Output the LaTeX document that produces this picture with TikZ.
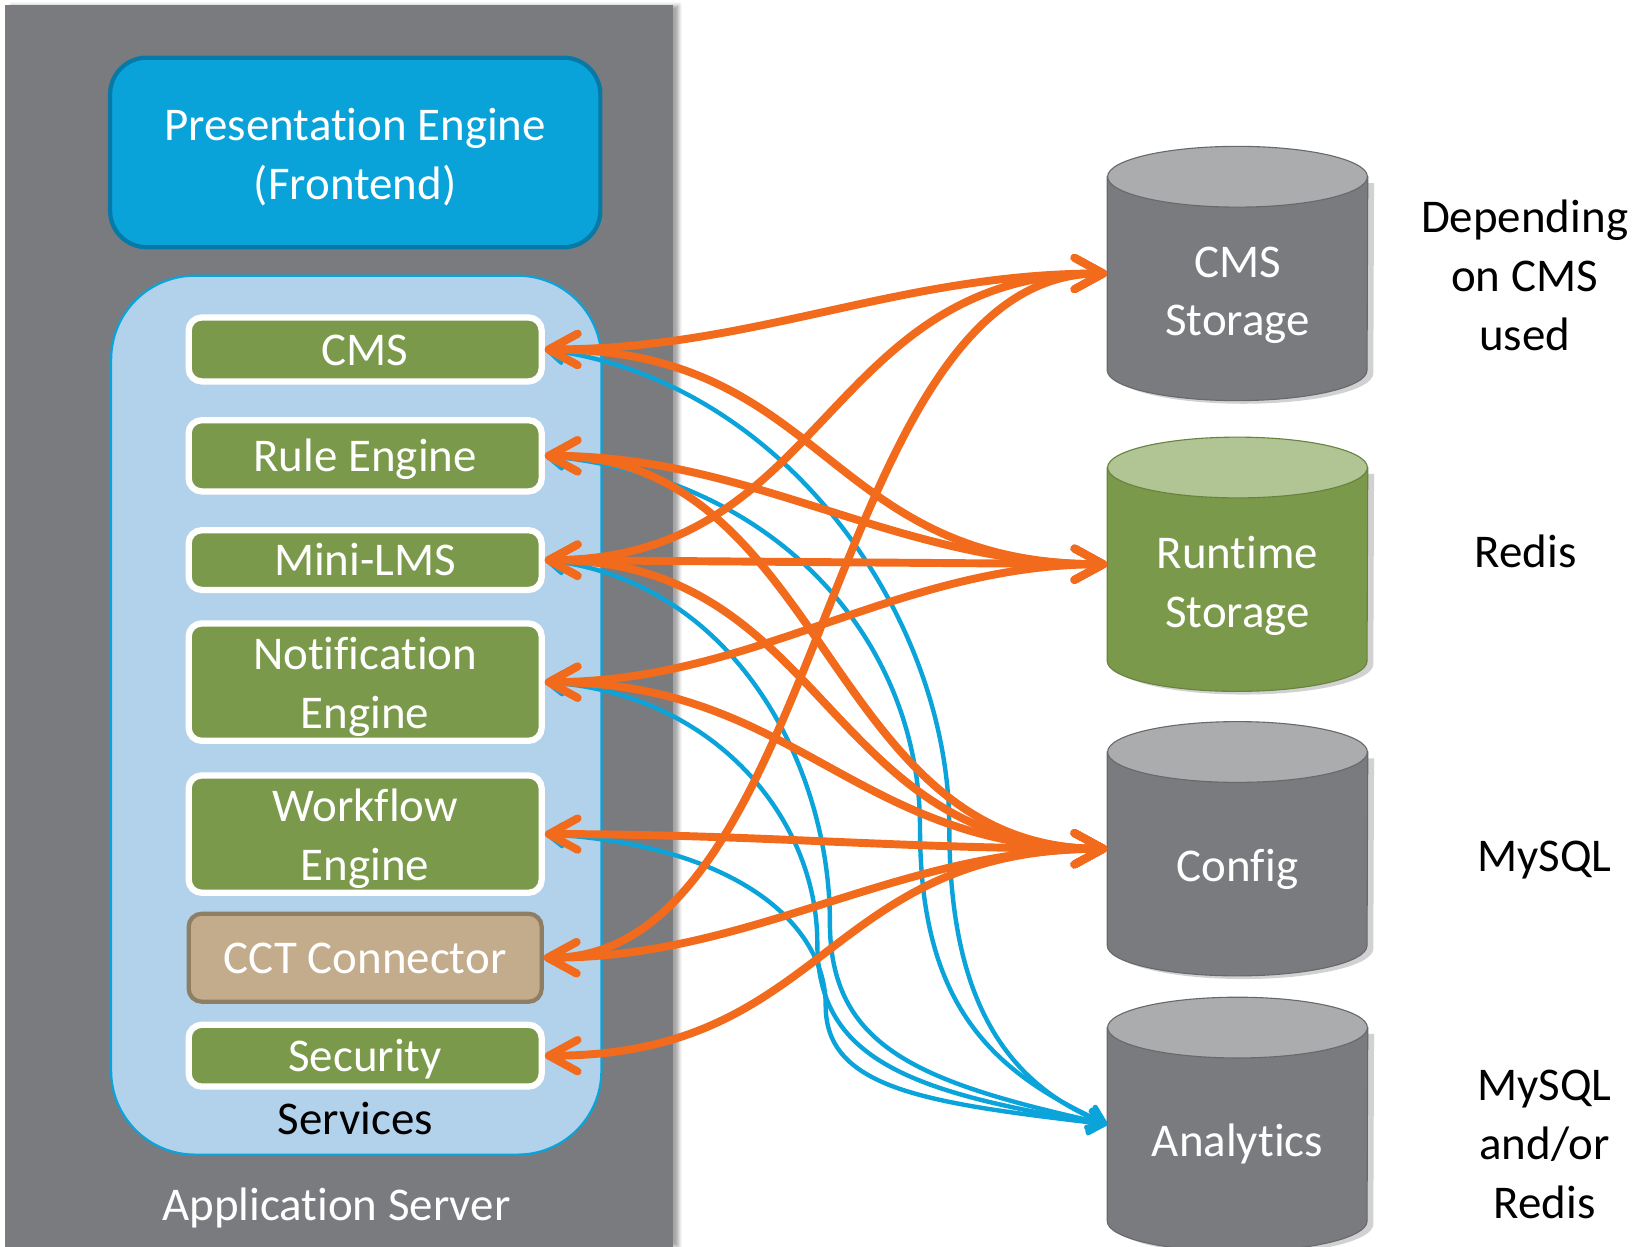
\documentclass[tikz,border=0pt]{standalone}
\usepackage{fontspec}
\setmainfont{Carlito}[Ligatures=NoCommon]
\usetikzlibrary{arrows.meta,shadows.blur}

\definecolor{srvgray}{HTML}{7A7B7F}
\definecolor{frontblue}{HTML}{09A2D9}
\definecolor{frontedge}{HTML}{0779A6}
\definecolor{svcblue}{HTML}{B2D2EB}
\definecolor{svcgreen}{HTML}{7A994A}
\definecolor{ccttan}{HTML}{C3AC8B}
\definecolor{cctedge}{HTML}{8E7E64}
\definecolor{dbgray}{HTML}{7A7B7F}
\definecolor{dbtop}{HTML}{ABACAE}
\definecolor{dbgreentop}{HTML}{B0C494}
\definecolor{linkorange}{HTML}{F26A1B}
\definecolor{linkblue}{HTML}{0AA3DA}

% same top and bottom room for every line of node text
\newcommand\textstrut{\rule[-0.2cm]{0pt}{1cm}}

\pgfdeclarelayer{drums}
\pgfsetlayers{drums,main}

\begin{document}
\begin{tikzpicture}[x=0.02cm, y=-0.02cm,
  every node/.style={font=\fontsize{25.5}{32}\selectfont, align=center, inner sep=0pt,
    execute at begin node=\textstrut, execute at end node=\textstrut},
  server/.style={fill=srvgray, minimum width=12.74cm, minimum height=23.7cm,
    blur shadow={shadow xshift=1.2mm, shadow yshift=0mm, shadow opacity=35}},
  frontbox/.style={fill=frontblue, draw=frontedge, line width=2.3pt, rounded corners=0.7cm,
    minimum width=9.36cm, minimum height=3.62cm},
  svcarea/.style={fill=svcblue, draw=linkblue, line width=1.2pt, rounded corners=1.6cm,
    minimum width=9.36cm, minimum height=16.78cm},
  svc/.style={fill=svcgreen, draw=white, line width=3.4pt, rounded corners=0.25cm,
    minimum width=6.74cm, text=white},
  cctbox/.style={svc, fill=ccttan, draw=cctedge, line width=2.3pt},
  twolines/.style={text=white, yshift=-0.12cm},
  db/.style={minimum width=4.96cm, minimum height=4.84cm},
  dbtext/.style={text=white, yshift=-0.32cm},
  dbtext2/.style={text=white, yshift=-0.44cm},
  note/.style={text=black},
  link/.style={draw=linkorange, line width=4.3pt, line cap=round, <->,
    >={Straight Barb[length=5.5mm,width=6mm,round]},
    preaction={draw=black, draw opacity=.3, transform canvas={shift={(0.8pt,-1.2pt)}}}},
  feed/.style={draw=linkblue, line width=2.4pt, line cap=round, <->,
    >={Straight Barb[length=3mm,width=4.2mm,round]}}]

\useasboundingbox (0,0) rectangle (1568,1190);

% application server and its parts
\node[server] (appserver) at (323.5,597.5) {};
\node[text=white] (srvlabel) at (321,1150) {Application Server};
\node[frontbox, label={[twolines]center:Presentation Engine\\(Frontend)}] (front) at (339,145.5) {};
\node[svcarea] (services) at (340,682.5) {};
\node (svclabel) at (339,1068) {Services};

\node[svc, minimum height=1.22cm] (cms)      at (348.5,333.5) {CMS};
\node[svc, minimum height=1.36cm] (rule)     at (348.5,435)   {Rule Engine};
\node[svc, minimum height=1.14cm] (lms)      at (348.5,534.5) {Mini-LMS};
\node[svc, minimum height=2.24cm, label={[twolines]center:Notification\\Engine}] (notify) at (348.5,651) {};
\node[svc, minimum height=2.24cm, label={[twolines]center:Workflow\\Engine}] (workflow) at (348.5,796) {};
\node[cctbox, minimum height=1.68cm] (cct)   at (348.5,914)   {CCT Connector};
\node[svc, minimum height=1.18cm] (security) at (348.5,1007.5) {Security};

% data stores
\node[db, label={[dbtext2]center:CMS\\Storage}] (cmsdb) at (1181,261) {};
\node[db, label={[dbtext2]center:Runtime\\Storage}] (runtimedb) at (1181,538.5) {};
\node[db, label={[dbtext]center:Config}] (configdb) at (1181,810) {};
\node[db, label={[dbtext]center:Analytics}] (analyticsdb) at (1181,1073) {};

% drums behind the store labels
\begin{pgfonlayer}{drums}
\foreach \db/\body/\top in {cmsdb/dbgray/dbtop, runtimedb/svcgreen/dbgreentop,
    configdb/dbgray/dbtop, analyticsdb/dbgray/dbtop}{
  \fill[black, opacity=.18] ([shift={(0.12cm,-0.70cm)}]\db.north west)
    -- ([shift={(0.12cm,0.52cm)}]\db.south west)
    arc[start angle=180, end angle=360, x radius=2.48cm, y radius=0.58cm]
    -- ([shift={(0.12cm,-0.70cm)}]\db.north east) -- cycle;
  \filldraw[fill=\body, draw=\body!85!black, line width=0.6pt]
    ([yshift=-0.58cm]\db.north west) -- ([yshift=0.58cm]\db.south west)
    arc[start angle=180, end angle=360, x radius=2.48cm, y radius=0.58cm]
    -- ([yshift=-0.58cm]\db.north east) -- cycle;
  \filldraw[fill=\top, draw=\body!85!black, line width=0.6pt]
    ([yshift=-0.58cm]\db.north) ellipse[x radius=2.48cm, y radius=0.58cm];
}
\end{pgfonlayer}

\node[note] (cmsnote)       at (1455,268)  {Depending\\on CMS\\used};
\node[note] (runtimenote)   at (1456,527)  {Redis};
\node[note] (confignote)    at (1474,817)  {MySQL};
\node[note] (analyticsnote) at (1474,1097) {MySQL\\and/or\\Redis};

% analytics feeds, each dropping down before it turns into the store
\draw[feed] (cms.east) .. controls +(230,30) and +(0,-200) .. (906,790)
  .. controls +(0,160) and +(-100,-40) .. (analyticsdb.west);
\draw[feed] (rule.east) .. controls +(220,20) and +(0,-180) .. (878,790)
  .. controls +(0,170) and +(-110,-50) .. (analyticsdb.west);
\draw[feed] (lms.east) .. controls +(180,20) and +(0,-150) .. (792,880)
  .. controls +(0,120) and +(-180,-40) .. (analyticsdb.west);
\draw[feed] (notify.east) .. controls +(160,10) and +(0,-120) .. (780,900)
  .. controls +(0,110) and +(-190,-30) .. (analyticsdb.west);
\draw[feed] (workflow.east) .. controls +(180,10) and +(0,-80) .. (788,960)
  .. controls +(0,80) and +(-170,-20) .. (analyticsdb.west);

% storage links
\draw[link] (cms.east)      .. controls +(200,0) and +(-200,0) .. (cmsdb.west);
\draw[link] (cms.east)      .. controls +(270,0) and +(-270,0) .. (runtimedb.west);
\draw[link] (rule.east)     .. controls +(200,0) and +(-200,0) .. (runtimedb.west);
\draw[link] (rule.east)     .. controls +(270,0) and +(-270,0) .. (configdb.west);
\draw[link] (lms.east)      .. controls +(270,0) and +(-270,0) .. (cmsdb.west);
\draw[link] (lms.east)      -- (runtimedb.west);
\draw[link] (lms.east)      .. controls +(270,0) and +(-270,0) .. (configdb.west);
\draw[link] (notify.east)   .. controls +(200,0) and +(-200,0) .. (runtimedb.west);
\draw[link] (notify.east)   .. controls +(240,0) and +(-240,0) .. (configdb.west);
\draw[link] (workflow.east) .. controls +(200,0) and +(-200,0) .. (configdb.west);
\draw[link] (cct.east)      .. controls +(270,0) and +(-270,0) .. (cmsdb.west);
\draw[link] (cct.east)      .. controls +(200,0) and +(-200,0) .. (configdb.west);
\draw[link] (security.east) .. controls +(270,0) and +(-270,0) .. (configdb.west);
\end{tikzpicture}
\end{document}
